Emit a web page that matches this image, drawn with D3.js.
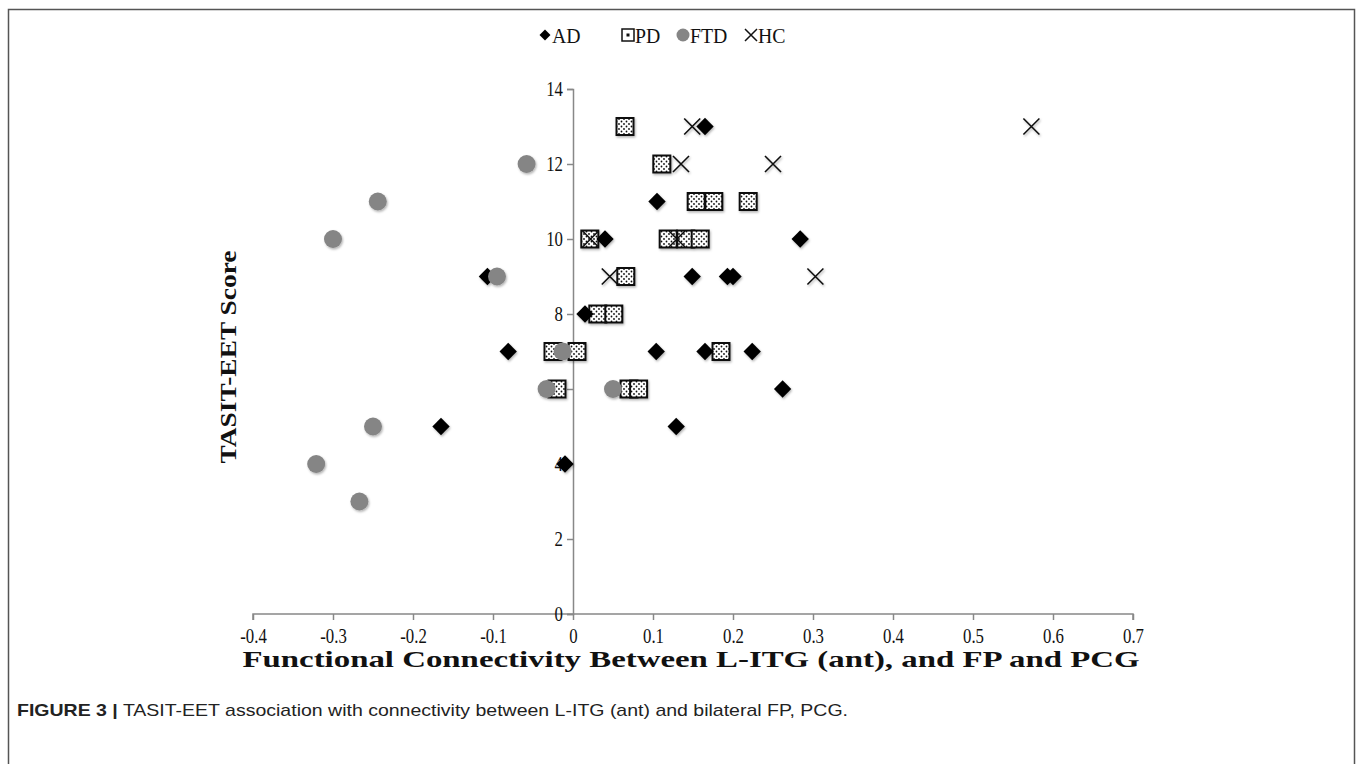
<!DOCTYPE html>
<html>
<head>
<meta charset="utf-8">
<script src="https://cdn.jsdelivr.net/npm/d3@7"></script>
<style>
  body { margin: 0; background: #fff; }
  svg { display: block; }
</style>
</head>
<body>
<svg id="chart" width="1357" height="764"></svg>
<script>
// 数据：每组的 x（功能连接）与 y（TASIT-EET 得分）
const adX = [0.165, 0.105, 0.04, 0.284, -0.107, 0.149, 0.193, 0.2, 0.015, -0.081, 0.104, 0.165, 0.224, 0.262, 0.129, -0.165, -0.01];
const adY = [13, 11, 10, 10, 9, 9, 9, 9, 8, 7, 7, 7, 7, 6, 5, 5, 4];

const pdX = [0.065, 0.111, 0.154, 0.176, 0.219, 0.021, 0.119, 0.141, 0.159, 0.066, 0.031, 0.051, -0.025, 0.005, 0.185, -0.02, 0.07, 0.082];
const pdY = [13, 12, 11, 11, 11, 10, 10, 10, 10, 9, 8, 8, 7, 7, 7, 6, 6, 6];

const ftdX = [-0.058, -0.244, -0.3, -0.095, -0.013, -0.033, 0.05, -0.25, -0.321, -0.267];
const ftdY = [12, 11, 10, 9, 7, 6, 6, 5, 4, 3];

const hcX = [0.149, 0.573, 0.135, 0.25, 0.13, 0.022, 0.046, 0.303];
const hcY = [13, 13, 12, 12, 10, 10, 9, 9];

const xTicks = [-0.4, -0.3, -0.2, -0.1, 0, 0.1, 0.2, 0.3, 0.4, 0.5, 0.6, 0.7];
const yTicks = [0, 2, 4, 6, 8, 10, 12, 14];
const groups = ["AD", "PD", "FTD", "HC"];

const svg = d3.select("#chart");
const serif = "'Liberation Serif', 'Times New Roman', serif";
const squeeze = 0.84; // 原图字体偏窄

// 外框
svg.append("rect")
  .attr("x", 8.5).attr("y", 9.5)
  .attr("width", 1346).attr("height", 800)
  .attr("fill", "none").attr("stroke", "#555").attr("stroke-width", 1.5);

const defs = svg.append("defs");
// 轻微阴影
const f = defs.append("filter").attr("id", "shadow")
  .attr("x", "-50%").attr("y", "-50%").attr("width", "200%").attr("height", "200%");
f.append("feDropShadow").attr("dx", 1).attr("dy", 1.5).attr("stdDeviation", 1)
  .attr("flood-color", "#000").attr("flood-opacity", 0.3);
// PD 方块里的点
const pat = defs.append("pattern").attr("id", "dots")
  .attr("patternUnits", "userSpaceOnUse").attr("width", 5).attr("height", 5);
pat.append("rect").attr("width", 5).attr("height", 5).attr("fill", "#fff");
pat.append("circle").attr("cx", 1.5).attr("cy", 1.5).attr("r", 0.9).attr("fill", "#111");
pat.append("circle").attr("cx", 4).attr("cy", 4).attr("r", 0.9).attr("fill", "#111");

const x = d3.scaleLinear().domain([-0.4, 0.7]).range([253, 1133]);
const y = d3.scaleLinear().domain([0, 14]).range([614, 89]);

// x 轴
const xAxis = svg.append("g")
  .attr("transform", `translate(0,${y(0)})`)
  .call(d3.axisBottom(x).tickValues(xTicks).tickSize(6).tickFormat(d => `${+d.toFixed(1)}`));
// y 轴
const yAxis = svg.append("g")
  .attr("transform", `translate(${x(0)},0)`)
  .call(d3.axisLeft(y).tickValues(yTicks).tickSize(6).tickFormat(d => `${d}`));

[xAxis, yAxis].forEach(g => {
  g.select(".domain").attr("stroke", "#888").attr("stroke-width", 1.5);
  g.selectAll(".tick line").attr("stroke", "#888").attr("stroke-width", 1.5);
  g.selectAll(".tick text")
    .style("font-family", serif).style("font-size", "20px").attr("fill", "#111");
});
xAxis.selectAll(".tick text").attr("x", 0).attr("y", 0).attr("dy", "0.35em")
  .attr("transform", `translate(0,22) scale(${squeeze},1)`);
yAxis.selectAll(".tick text").attr("x", 0).attr("dy", "0.33em")
  .attr("transform", `translate(-10,0) scale(${squeeze},1)`);
xAxis.select(".domain").attr("d", `M${x(-0.4)},6V0H${x(0.7)}V6`);

const plot = svg.append("g").attr("filter", "url(#shadow)");

// PD
plot.selectAll("rect.pd").data(d3.range(pdX.length)).enter().append("rect")
  .attr("class", "pd")
  .attr("x", i => x(pdX[i]) - 8.5).attr("y", i => y(pdY[i]) - 8.5)
  .attr("width", 17).attr("height", 17)
  .attr("fill", "url(#dots)").attr("stroke", "#111").attr("stroke-width", 2);

// HC
const cross = (cx, cy, r) => `M${cx - r},${cy - r}L${cx + r},${cy + r}M${cx - r},${cy + r}L${cx + r},${cy - r}`;
plot.selectAll("path.hc").data(d3.range(hcX.length)).enter().append("path")
  .attr("class", "hc")
  .attr("d", i => cross(x(hcX[i]), y(hcY[i]), 8))
  .attr("stroke", "#111").attr("stroke-width", 1.6).attr("fill", "none");

// AD
const diamond = d3.symbol().type(d3.symbolSquare).size(150);
plot.selectAll("path.ad").data(d3.range(adX.length)).enter().append("path")
  .attr("class", "ad")
  .attr("d", diamond)
  .attr("transform", i => `translate(${x(adX[i])},${y(adY[i])}) rotate(45)`)
  .attr("fill", "#000");

// FTD
plot.selectAll("circle.ftd").data(d3.range(ftdX.length)).enter().append("circle")
  .attr("class", "ftd")
  .attr("cx", i => x(ftdX[i])).attr("cy", i => y(ftdY[i])).attr("r", 9)
  .attr("fill", "#858585");

// 图例
const legendPos = [545, 628, 683, 751];
const lg = svg.append("g");
groups.forEach((name, i) => {
  const cx = legendPos[i], cy = 35;
  if (name === "AD") {
    lg.append("path").attr("d", d3.symbol().type(d3.symbolSquare).size(60))
      .attr("transform", `translate(${cx},${cy}) rotate(45)`).attr("fill", "#000");
  } else if (name === "PD") {
    lg.append("rect").attr("x", cx - 6).attr("y", cy - 6).attr("width", 12).attr("height", 12)
      .attr("fill", "#fff").attr("stroke", "#111").attr("stroke-width", 1.5);
    lg.append("rect").attr("x", cx - 1.5).attr("y", cy - 1.5).attr("width", 3).attr("height", 3).attr("fill", "#111");
  } else if (name === "FTD") {
    lg.append("circle").attr("cx", cx).attr("cy", cy).attr("r", 6.5).attr("fill", "#858585");
  } else {
    lg.append("path").attr("d", cross(cx, cy, 6)).attr("stroke", "#111").attr("stroke-width", 1.5);
  }
  lg.append("text").attr("transform", `translate(${cx + 7},${cy + 7.5}) scale(0.9,1)`)
    .style("font-family", serif).style("font-size", "22px").attr("fill", "#111").text(name);
});

// 轴标题
svg.append("text")
  .attr("x", 691).attr("y", 667).attr("text-anchor", "middle")
  .style("font-family", serif).style("font-weight", "bold").style("font-size", "24px")
  .attr("textLength", 897).attr("lengthAdjust", "spacingAndGlyphs")
  .attr("fill", "#111")
  .text("Functional Connectivity Between L-ITG (ant), and FP and PCG");

svg.append("text")
  .attr("transform", "translate(236,357) rotate(-90)")
  .attr("text-anchor", "middle")
  .style("font-family", serif).style("font-weight", "bold").style("font-size", "23px")
  .attr("textLength", 213).attr("lengthAdjust", "spacingAndGlyphs")
  .attr("fill", "#111")
  .text("TASIT-EET Score");

// 图注
const cap = svg.append("text")
  .attr("x", 17).attr("y", 716)
  .style("font-family", "'Liberation Sans', Arial, sans-serif").style("font-size", "17px")
  .attr("fill", "#222")
  .attr("textLength", 831).attr("lengthAdjust", "spacingAndGlyphs");
cap.append("tspan").style("font-weight", "bold").text("FIGURE 3 |");
cap.append("tspan").text(" TASIT-EET association with connectivity between L-ITG (ant) and bilateral FP, PCG.");
</script>
</body>
</html>
